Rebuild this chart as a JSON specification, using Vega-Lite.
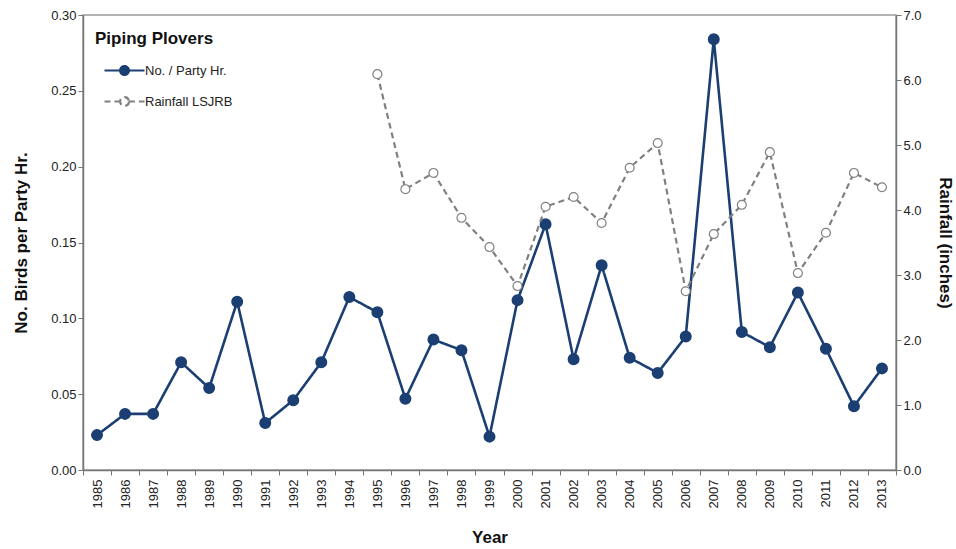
{
  "$schema": "https://vega.github.io/schema/vega-lite/v6.json",
  "width": 813,
  "height": 455,
  "autosize": {"type": "none"},
  "padding": {"left": 83, "top": 15, "right": 60, "bottom": 79},
  "background": "white",
  "data": {
    "values": [
      {"Year": "1985", "Birds": 0.023, "Rain": null},
      {"Year": "1986", "Birds": 0.037, "Rain": null},
      {"Year": "1987", "Birds": 0.037, "Rain": null},
      {"Year": "1988", "Birds": 0.071, "Rain": null},
      {"Year": "1989", "Birds": 0.054, "Rain": null},
      {"Year": "1990", "Birds": 0.111, "Rain": null},
      {"Year": "1991", "Birds": 0.031, "Rain": null},
      {"Year": "1992", "Birds": 0.046, "Rain": null},
      {"Year": "1993", "Birds": 0.071, "Rain": null},
      {"Year": "1994", "Birds": 0.114, "Rain": null},
      {"Year": "1995", "Birds": 0.104, "Rain": 6.09},
      {"Year": "1996", "Birds": 0.047, "Rain": 4.32},
      {"Year": "1997", "Birds": 0.086, "Rain": 4.57},
      {"Year": "1998", "Birds": 0.079, "Rain": 3.88},
      {"Year": "1999", "Birds": 0.022, "Rain": 3.43},
      {"Year": "2000", "Birds": 0.112, "Rain": 2.83},
      {"Year": "2001", "Birds": 0.162, "Rain": 4.05},
      {"Year": "2002", "Birds": 0.073, "Rain": 4.2},
      {"Year": "2003", "Birds": 0.135, "Rain": 3.8},
      {"Year": "2004", "Birds": 0.074, "Rain": 4.65},
      {"Year": "2005", "Birds": 0.064, "Rain": 5.03},
      {"Year": "2006", "Birds": 0.088, "Rain": 2.75},
      {"Year": "2007", "Birds": 0.284, "Rain": 3.63},
      {"Year": "2008", "Birds": 0.091, "Rain": 4.08},
      {"Year": "2009", "Birds": 0.081, "Rain": 4.89},
      {"Year": "2010", "Birds": 0.117, "Rain": 3.03},
      {"Year": "2011", "Birds": 0.08, "Rain": 3.65},
      {"Year": "2012", "Birds": 0.042, "Rain": 4.57},
      {"Year": "2013", "Birds": 0.067, "Rain": 4.35}
    ]
  },
  "encoding": {
    "x": {
      "field": "Year",
      "type": "ordinal",
      "scale": {"type": "band", "paddingInner": 0, "paddingOuter": 0},
      "axis": {
        "title": "Year",
        "labelAngle": -90,
        "labelAlign": "right",
        "labelBaseline": "middle",
        "labelPadding": 4,
        "tickBand": "extent",
        "titlePadding": 22
      }
    }
  },
  "layer": [
    {
      "layer": [
        {
          "mark": {"type": "line", "strokeWidth": 2.6},
          "encoding": {
            "y": {
              "field": "Birds",
              "type": "quantitative",
              "scale": {"domain": [0, 0.3], "nice": false},
              "axis": {
                "orient": "left",
                "title": "No. Birds per Party Hr.",
                "values": [0, 0.05, 0.1, 0.15, 0.2, 0.25, 0.3],
                "format": ".2f",
                "titlePadding": 20
              }
            },
            "stroke": {
              "datum": "No. / Party Hr.",
              "scale": {"domain": ["No. / Party Hr.", "Rainfall LSJRB"], "range": ["#1b3f72", "#808080"]},
              "legend": {"title": "Piping Plovers"}
            },
            "strokeDash": {
              "datum": "No. / Party Hr.",
              "scale": {"domain": ["No. / Party Hr.", "Rainfall LSJRB"], "range": [[1, 0], [6, 4]]},
              "legend": {"title": "Piping Plovers"}
            }
          }
        },
        {
          "mark": {"type": "point", "filled": false, "size": 110, "strokeWidth": 1.5, "opacity": 1},
          "encoding": {
            "y": {"field": "Birds", "type": "quantitative"},
            "fill": {
              "datum": "No. / Party Hr.",
              "scale": {"domain": ["No. / Party Hr.", "Rainfall LSJRB"], "range": ["#1b3f72", "#ffffff"]},
              "legend": {"title": "Piping Plovers"}
            },
            "stroke": {"datum": "No. / Party Hr.", "legend": {"title": "Piping Plovers"}}
          }
        }
      ]
    },
    {
      "transform": [{"filter": "datum.Rain != null"}],
      "layer": [
        {
          "mark": {"type": "line", "strokeWidth": 2.2},
          "encoding": {
            "y": {
              "field": "Rain",
              "type": "quantitative",
              "scale": {"domain": [0, 7], "nice": false},
              "axis": {
                "orient": "right",
                "title": "Rainfall (inches)",
                "titleAngle": 90,
                "values": [0, 1, 2, 3, 4, 5, 6, 7],
                "format": ".1f",
                "titlePadding": 14
              }
            },
            "stroke": {"datum": "Rainfall LSJRB", "legend": {"title": "Piping Plovers"}},
            "strokeDash": {"datum": "Rainfall LSJRB", "legend": {"title": "Piping Plovers"}}
          }
        },
        {
          "mark": {"type": "point", "filled": false, "size": 80, "strokeWidth": 1.2, "opacity": 1},
          "encoding": {
            "y": {"field": "Rain", "type": "quantitative"},
            "fill": {"datum": "Rainfall LSJRB", "legend": {"title": "Piping Plovers"}},
            "stroke": {"datum": "Rainfall LSJRB", "legend": {"title": "Piping Plovers"}}
          }
        }
      ]
    }
  ],
  "resolve": {"scale": {"y": "independent"}, "axis": {"y": "independent"}},
  "config": {
    "font": "Liberation Sans",
    "view": {"stroke": "#9a9a9a", "strokeWidth": 1.5},
    "axis": {
      "labelFont": "Liberation Sans",
      "labelFontSize": 13,
      "labelColor": "#222",
      "titleFont": "Liberation Sans",
      "titleFontSize": 17,
      "titleFontWeight": "bold",
      "titleColor": "#111",
      "domainColor": "#777",
      "domainWidth": 1.5,
      "tickColor": "#777",
      "tickSize": 5,
      "grid": false
    },
    "legend": {
      "orient": "none",
      "legendX": 12,
      "legendY": 16,
      "titleFont": "Liberation Sans",
      "titleFontSize": 17,
      "titleFontWeight": "bold",
      "titleColor": "#111",
      "titlePadding": 1,
      "labelFont": "Liberation Sans",
      "labelFontSize": 13,
      "labelColor": "#222",
      "symbolType": "M-0.6,0H0.18M0.62,0H1.4M0.62,0A0.22,0.22,0,1,1,0.18,0A0.22,0.22,0,1,1,0.62,0Z",
      "symbolSize": 1600,
      "symbolStrokeWidth": 2.2,
      "rowPadding": -7,
      "labelOffset": 7
    }
  }
}
